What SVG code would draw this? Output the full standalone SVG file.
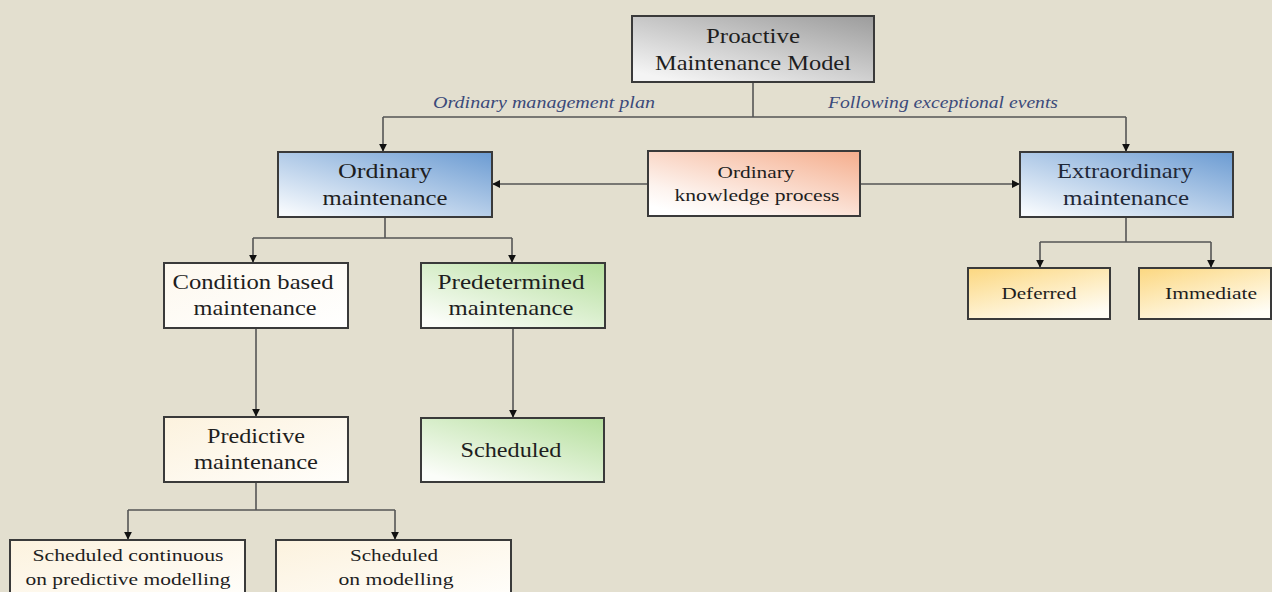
<svg xmlns="http://www.w3.org/2000/svg" width="1272" height="592" viewBox="0 0 1272 592">
<style>
.box{stroke:#3a3a3a;stroke-width:2}
.t{font-family:"Liberation Serif","Times New Roman",serif;fill:#1e1e1e;text-anchor:middle}
.big{font-size:22px}
.small{font-size:17px}
.lbl{font-family:"Liberation Serif","Times New Roman",serif;font-style:italic;font-size:17px;fill:#3b4a7a;text-anchor:middle}
.c{fill:none;stroke:#555;stroke-width:1.6}
</style>
<defs>
<marker id="ah" viewBox="0 0 10 10" refX="9" refY="5" markerWidth="8" markerHeight="8" orient="auto" markerUnits="userSpaceOnUse">
<path d="M0,0 L10,5 L0,10 z" fill="#111"/>
</marker>
<linearGradient id="gGray" x1="1" y1="0" x2="0.2" y2="1">
<stop offset="0" stop-color="#9c9c9c"/><stop offset="1" stop-color="#f4f4f4"/>
</linearGradient>
<linearGradient id="gBlue" x1="1" y1="0" x2="0.1" y2="1">
<stop offset="0" stop-color="#6b9bd2"/><stop offset="1" stop-color="#f7fafd"/>
</linearGradient>
<linearGradient id="gOrange" x1="1" y1="0" x2="0.2" y2="1">
<stop offset="0" stop-color="#f5ad8c"/><stop offset="0.8" stop-color="#fdf3ee"/><stop offset="1" stop-color="#ffffff"/>
</linearGradient>
<linearGradient id="gGreen" x1="1" y1="0" x2="0.2" y2="1">
<stop offset="0" stop-color="#b5df9d"/><stop offset="1" stop-color="#fbfdf9"/>
</linearGradient>
<linearGradient id="gYellow" x1="0.1" y1="0" x2="0.7" y2="1">
<stop offset="0" stop-color="#fcd985"/><stop offset="1" stop-color="#fffdf5"/>
</linearGradient>
<linearGradient id="gCream" x1="0" y1="0" x2="1" y2="1">
<stop offset="0" stop-color="#fcf2de"/><stop offset="1" stop-color="#fffefb"/>
</linearGradient>
<linearGradient id="gWhite" x1="0" y1="0" x2="1" y2="1">
<stop offset="0" stop-color="#fdf8ee"/><stop offset="1" stop-color="#ffffff"/>
</linearGradient>
</defs>
<rect width="1272" height="592" fill="#e3dfcf"/>

<g id="connectors">
<path class="c" d="M753,82 V117"/>
<path class="c" d="M383,117 H1126"/>
<path class="c" d="M383,117 V151" marker-end="url(#ah)"/>
<path class="c" d="M1126,117 V151" marker-end="url(#ah)"/>
<path class="c" d="M648,184 H493" marker-end="url(#ah)"/>
<path class="c" d="M860,184 H1019" marker-end="url(#ah)"/>
<path class="c" d="M385,217 V238 M253,238 H512"/>
<path class="c" d="M253,238 V262" marker-end="url(#ah)"/>
<path class="c" d="M512,238 V262" marker-end="url(#ah)"/>
<path class="c" d="M256,328 V416" marker-end="url(#ah)"/>
<path class="c" d="M513,328 V417" marker-end="url(#ah)"/>
<path class="c" d="M256,482 V510 M128,510 H395"/>
<path class="c" d="M128,510 V539" marker-end="url(#ah)"/>
<path class="c" d="M395,510 V539" marker-end="url(#ah)"/>
<path class="c" d="M1126,217 V242 M1040,242 H1211"/>
<path class="c" d="M1040,242 V267" marker-end="url(#ah)"/>
<path class="c" d="M1211,242 V267" marker-end="url(#ah)"/>
<text class="lbl" x="544" y="108" textLength="222" lengthAdjust="spacingAndGlyphs">Ordinary management plan</text>
<text class="lbl" x="943" y="108" textLength="230" lengthAdjust="spacingAndGlyphs">Following exceptional events</text>
</g>

<g id="proactive">
<rect class="box" x="632" y="16" width="242" height="66" fill="url(#gGray)"/>
<text class="t big" x="753" y="43" textLength="94" lengthAdjust="spacingAndGlyphs">Proactive</text>
<text class="t big" x="753" y="70" textLength="196" lengthAdjust="spacingAndGlyphs">Maintenance Model</text>
</g>

<g id="ordinary">
<rect class="box" x="278" y="152" width="214" height="65" fill="url(#gBlue)"/>
<text class="t big" x="385" y="178" textLength="94" lengthAdjust="spacingAndGlyphs">Ordinary</text>
<text class="t big" x="385" y="205" textLength="125" lengthAdjust="spacingAndGlyphs">maintenance</text>
</g>

<g id="knowledge">
<rect class="box" x="648" y="151" width="212" height="65" fill="url(#gOrange)"/>
<text class="t small" x="756" y="178" textLength="77" lengthAdjust="spacingAndGlyphs">Ordinary</text>
<text class="t small" x="757" y="201" textLength="165" lengthAdjust="spacingAndGlyphs">knowledge process</text>
</g>

<g id="extraordinary">
<rect class="box" x="1020" y="152" width="213" height="65" fill="url(#gBlue)"/>
<text class="t big" x="1125" y="178" textLength="136" lengthAdjust="spacingAndGlyphs" style="fill:#1f2838">Extraordinary</text>
<text class="t big" x="1126" y="205" textLength="126" lengthAdjust="spacingAndGlyphs" style="fill:#1f2838">maintenance</text>
</g>

<g id="deferred">
<rect class="box" x="968" y="268" width="142" height="51" fill="url(#gYellow)"/>
<text class="t small" x="1039" y="299" textLength="75" lengthAdjust="spacingAndGlyphs">Deferred</text>
</g>

<g id="immediate">
<rect class="box" x="1139" y="268" width="132" height="51" fill="url(#gYellow)"/>
<text class="t small" x="1211" y="299" textLength="92" lengthAdjust="spacingAndGlyphs">Immediate</text>
</g>

<g id="condition">
<rect class="box" x="164" y="263" width="184" height="65" fill="url(#gWhite)"/>
<text class="t big" x="253" y="289" textLength="161" lengthAdjust="spacingAndGlyphs">Condition based</text>
<text class="t big" x="255" y="315" textLength="123" lengthAdjust="spacingAndGlyphs">maintenance</text>
</g>

<g id="predetermined">
<rect class="box" x="421" y="263" width="184" height="65" fill="url(#gGreen)"/>
<text class="t big" x="511" y="289" textLength="147" lengthAdjust="spacingAndGlyphs">Predetermined</text>
<text class="t big" x="511" y="315" textLength="125" lengthAdjust="spacingAndGlyphs">maintenance</text>
</g>

<g id="predictive">
<rect class="box" x="164" y="417" width="184" height="65" fill="url(#gCream)"/>
<text class="t big" x="256" y="443" textLength="98" lengthAdjust="spacingAndGlyphs">Predictive</text>
<text class="t big" x="256" y="469" textLength="124" lengthAdjust="spacingAndGlyphs">maintenance</text>
</g>

<g id="scheduled">
<rect class="box" x="421" y="418" width="183" height="64" fill="url(#gGreen)"/>
<text class="t big" x="511" y="457" textLength="101" lengthAdjust="spacingAndGlyphs">Scheduled</text>
</g>

<g id="sched-continuous">
<rect class="box" x="10" y="540" width="235" height="60" fill="url(#gCream)"/>
<text class="t small" x="128" y="561" textLength="191" lengthAdjust="spacingAndGlyphs">Scheduled continuous</text>
<text class="t small" x="128" y="585" textLength="205" lengthAdjust="spacingAndGlyphs">on predictive modelling</text>
</g>

<g id="sched-modelling">
<rect class="box" x="276" y="540" width="235" height="60" fill="url(#gCream)"/>
<text class="t small" x="394" y="561" textLength="88" lengthAdjust="spacingAndGlyphs">Scheduled</text>
<text class="t small" x="396" y="585" textLength="115" lengthAdjust="spacingAndGlyphs">on modelling</text>
</g>
</svg>
